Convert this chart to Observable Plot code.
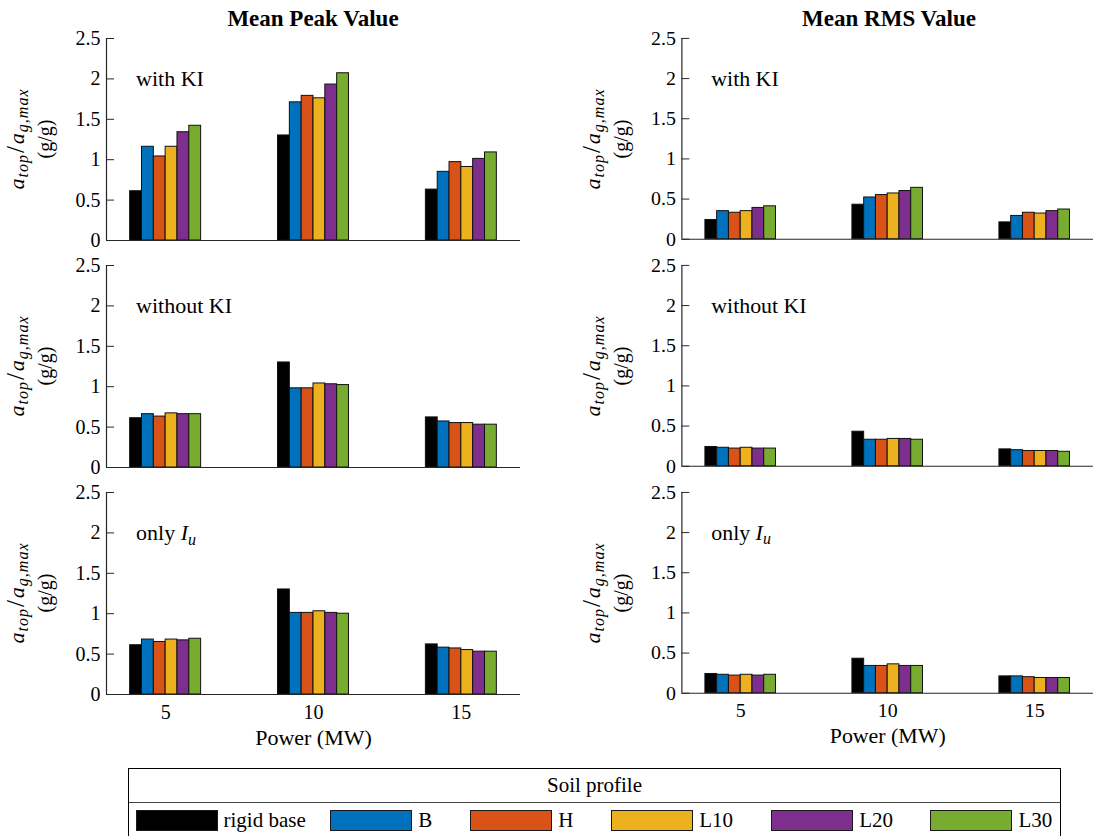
<!DOCTYPE html>
<html>
<head>
<meta charset="utf-8">
<script src="https://cdn.jsdelivr.net/npm/d3@7"></script>
<script src="https://cdn.jsdelivr.net/npm/@observablehq/plot@0.6"></script>
<style>
  body { margin: 0; background: #fff; }
  #fig { position: relative; width: 1093px; height: 836px; overflow: hidden; background: #fff;
         font-family: "Liberation Serif"; color: #000; }
  #fig svg, #fig svg text, #fig svg tspan { font-family: "Liberation Serif" !important; }
  .panel { position: absolute; }
  .title { position: absolute; top: 7px; font-weight: bold; font-size: 23px; line-height: 23px;
           transform: translateX(-50%); white-space: nowrap; }
  .ylab { position: absolute; transform: translate(-50%, -50%) rotate(-90deg); text-align: center;
          white-space: nowrap; }
  .ylab.main { font-style: italic; font-size: 22px; line-height: 22px; letter-spacing: 1px; }
  .ylab .slash { font-style: normal; font-size: 25px; line-height: 0; padding: 0 1px; }
  .ylab sub { font-size: 16px; font-style: italic; vertical-align: -4px; line-height: 0; }
  .ylab.unit { font-size: 20px; line-height: 20px; }
  .legend { position: absolute; left: 128px; top: 768px; width: 933px; height: 90px;
            border: 1.5px solid #000; box-sizing: border-box; font-size: 21px; }
  .legend .head { height: 33px; border-bottom: 1px solid #444; text-align: center; line-height: 33px; }
  .legend .items { display: grid; grid-template-columns: 194.7px 140px 141px 160px 159.3px auto;
                   padding: 7px 0 0 6.5px; }
  .legend .item { display: flex; align-items: center; height: 21px; }
  .legend .sw { width: 80px; height: 19px; border: 1px solid #1a1a1a; margin-right: 6px; }
</style>
</head>
<body>
<div id="fig"></div>
<script>
// Wind turbine tower-top acceleration, normalised by peak ground acceleration.
const powers = [5, 10, 15];                                   // turbine power (MW)
const profiles = ["rigid base", "B", "H", "L10", "L20", "L30"]; // soil profiles
const colors = ["#000000", "#0072BD", "#D95319", "#EDB120", "#7E2F8E", "#77AC30"];
const cases = ["with KI", "without KI", "only I_u"];
const yTicks = [0, 0.5, 1, 1.5, 2, 2.5];
const xLabel = "Power (MW)";

// rows: 5, 10, 15 MW; columns: soil profiles in the order above
const peakWithKI    = [[0.61, 1.16, 1.04, 1.16, 1.34, 1.42],
                       [1.30, 1.71, 1.79, 1.76, 1.93, 2.07],
                       [0.63, 0.85, 0.97, 0.91, 1.01, 1.09]];
const peakWithoutKI = [[0.61, 0.66, 0.63, 0.67, 0.66, 0.66],
                       [1.30, 0.98, 0.98, 1.04, 1.03, 1.02],
                       [0.62, 0.57, 0.55, 0.55, 0.53, 0.53]];
const peakOnlyIu    = [[0.61, 0.68, 0.65, 0.68, 0.67, 0.69],
                       [1.30, 1.01, 1.01, 1.03, 1.01, 1.00],
                       [0.62, 0.58, 0.57, 0.55, 0.53, 0.53]];
const rmsWithKI     = [[0.24, 0.35, 0.33, 0.35, 0.39, 0.41],
                       [0.43, 0.52, 0.55, 0.57, 0.60, 0.64],
                       [0.21, 0.29, 0.33, 0.32, 0.35, 0.37]];
const rmsWithoutKI  = [[0.24, 0.23, 0.22, 0.23, 0.22, 0.22],
                       [0.43, 0.33, 0.33, 0.34, 0.34, 0.33],
                       [0.21, 0.20, 0.19, 0.19, 0.19, 0.18]];
const rmsOnlyIu     = [[0.24, 0.23, 0.22, 0.23, 0.22, 0.23],
                       [0.43, 0.34, 0.34, 0.36, 0.34, 0.34],
                       [0.21, 0.21, 0.20, 0.19, 0.19, 0.19]];

const columns = [
  {title: "Mean Peak Value", series: [peakWithKI, peakWithoutKI, peakOnlyIu]},
  {title: "Mean RMS Value",  series: [rmsWithKI, rmsWithoutKI, rmsOnlyIu]}
];

const serif = "Liberation Serif";
const barWidth = 0.4;              // MW units per bar, six bars per group
const xDomain = [3, 17];
const frameW = 414, frameH = 202, mTop = 14;
const colLeft = [0, 575], colMargin = [106, 107];
const rowTop = [24, 251, 478];

const fig = document.getElementById("fig");
const ink = "#262626";

// "I_u" -> italic I with italic subscript u
function richNote(svg) {
  svg.querySelectorAll("g.note text").forEach(el => {
    const m = /^(.*?)([A-Za-z])_([A-Za-z]+)$/.exec(el.textContent);
    if (!m) return;
    const t = d3.select(el).text(null);
    t.append("tspan").text(m[1]);
    t.append("tspan").attr("font-style", "italic").text(m[2]);
    t.append("tspan").attr("font-style", "italic").attr("font-size", 16).attr("dy", "0.3em").text(m[3]);
  });
}

function panel(values, note, showX, ml) {
  const rows = powers.flatMap((p, i) => profiles.map((prof, k) => ({power: p, profile: prof, k, value: values[i][k]})));
  const mb = showX ? 62 : 2;
  const svg = Plot.plot({
    width: ml + frameW, height: mTop + frameH + mb,
    marginLeft: ml, marginRight: 0, marginTop: mTop, marginBottom: mb,
    style: {fontFamily: serif, fontSize: "20px", color: ink, background: "transparent", overflow: "visible"},
    x: {domain: xDomain, axis: null},
    y: {domain: [0, 2.5]},
    color: {domain: profiles, range: colors},
    marks: [
      Plot.rect(rows, {
        x1: d => d.power + (d.k - 3) * barWidth,
        x2: d => d.power + (d.k - 2) * barWidth,
        y1: () => 0, y2: "value",
        fill: "profile", stroke: "#111", strokeWidth: 1
      }),
      Plot.ruleY([0], {stroke: ink, strokeWidth: 1.2}),
      Plot.ruleX([xDomain[0]], {stroke: ink, strokeWidth: 1.2}),
      Plot.axisY({ticks: yTicks, tickFormat: d => String(d), tickSize: -8, tickPadding: 14,
                  fontSize: 20, fontFamily: serif, label: null, fill: "#000"}),
      showX ? Plot.axisX({ticks: powers, tickSize: 0, tickPadding: 10, fontSize: 20, fontFamily: serif,
                          fill: "#000", label: null}) : null,
      showX ? Plot.text([xLabel], {frameAnchor: "bottom", dy: 43, text: d => d, lineAnchor: "middle",
                                   fontSize: 22, fontFamily: serif, fill: "#000"}) : null,
      Plot.text([note], {x: 4, y: 2, text: d => d, textAnchor: "start", lineAnchor: "middle",
                         fontSize: 22, fontFamily: serif, fill: "#000", className: "note"})
    ]
  });
  svg.setAttribute("font-family", serif);
  richNote(svg);
  return svg;
}

function yLabel(cls, html, x, y) {
  const lab = document.createElement("div");
  lab.className = "ylab " + cls;
  lab.style.left = x + "px";
  lab.style.top = y + "px";
  lab.innerHTML = html;
  fig.appendChild(lab);
}

columns.forEach((col, c) => {
  const t = document.createElement("div");
  t.className = "title";
  t.style.left = (colLeft[c] + colMargin[c] + frameW / 2) + "px";
  t.textContent = col.title;
  fig.appendChild(t);

  col.series.forEach((values, r) => {
    const holder = document.createElement("div");
    holder.className = "panel";
    holder.style.left = colLeft[c] + "px";
    holder.style.top = rowTop[r] + "px";
    holder.appendChild(panel(values, cases[r], r === cases.length - 1, colMargin[c]));
    fig.appendChild(holder);

    const axisX = colLeft[c] + colMargin[c];
    const midY = rowTop[r] + mTop + frameH / 2;
    yLabel("main", 'a<sub>top</sub><span class="slash">/</span>a<sub>g,max</sub>', axisX - 89, midY);
    yLabel("unit", "(g/g)", axisX - 61, midY);
  });
});

// Legend: soil profile swatches
const legend = document.createElement("div");
legend.className = "legend";
legend.innerHTML = '<div class="head">Soil profile</div>';
const items = document.createElement("div");
items.className = "items";
profiles.forEach((p, i) => {
  const it = document.createElement("div");
  it.className = "item";
  const sw = document.createElement("span");
  sw.className = "sw";
  sw.style.background = colors[i];
  it.appendChild(sw);
  it.appendChild(document.createTextNode(p));
  items.appendChild(it);
});
legend.appendChild(items);
fig.appendChild(legend);
</script>
</body>
</html>
